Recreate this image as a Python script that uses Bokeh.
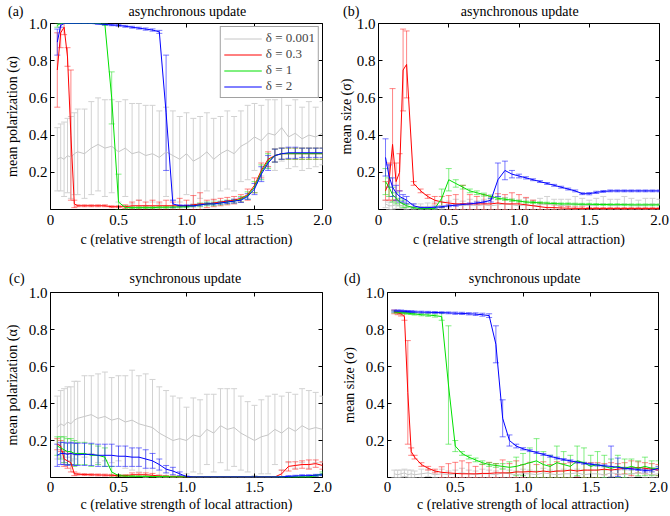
import numpy as np
from bokeh.plotting import figure
from bokeh.layouts import column, row
from bokeh.models import (ColumnDataSource, Whisker, TeeHead, Legend, LegendItem,
                          FixedTicker, CustomJSTickFormatter, LinearAxis, Range1d)
from bokeh.embed import file_html
from bokeh.resources import INLINE

FONT = "Liberation Serif"
NB = "\u00a0"

# ---------------- data ----------------
c_values = [0.05, 0.075, 0.1, 0.125, 0.15, 0.175, 0.2,
            0.25, 0.3, 0.35, 0.4, 0.45, 0.5, 0.55, 0.6, 0.65, 0.7, 0.75, 0.8, 0.85, 0.9, 0.95, 1.0,
            1.05, 1.1, 1.15, 1.2, 1.25, 1.3, 1.35, 1.4, 1.45, 1.5, 1.55, 1.6, 1.65, 1.7, 1.75, 1.8, 1.85, 1.9, 1.95, 2.0]
x_ticks = [0, 0.5, 1.0, 1.5, 2.0]
y_ticks = [0.2, 0.4, 0.6, 0.8, 1.0]
deltas = ["δ = 0.001", "δ = 0.3", "δ = 1", "δ = 2"]
panel_tags = ["(a)", "(b)", "(c)", "(d)"]
panel_titles = ["asynchronous update", "asynchronous update", "synchronous update", "synchronous update"]
y_labels = ["mean polarization (α)", "mean size (σ)", "mean polarization (α)", "mean size (σ)"]
x_label = "c (relative strength of local attraction)"

# (a) asynchronous, mean polarization
a_grey_m = [0.27, 0.28, 0.27, 0.29, 0.28, 0.30, 0.31,
            0.30, 0.33, 0.35, 0.33, 0.34, 0.31, 0.33, 0.30, 0.31, 0.29, 0.30, 0.28, 0.31, 0.29, 0.27, 0.30,
            0.26, 0.28, 0.31, 0.27, 0.30, 0.32, 0.30, 0.34, 0.36, 0.39, 0.37, 0.41, 0.40, 0.44, 0.39, 0.41, 0.38, 0.40, 0.39, 0.41]
a_grey_e = [0.17, 0.18, 0.20, 0.20, 0.22, 0.22, 0.23,
            0.24, 0.25, 0.25, 0.26, 0.25, 0.27, 0.26, 0.27, 0.26, 0.27, 0.26, 0.25, 0.24, 0.24, 0.23, 0.22,
            0.23, 0.22, 0.21, 0.22, 0.20, 0.21, 0.20, 0.19, 0.20, 0.18, 0.19, 0.18, 0.19, 0.18, 0.17, 0.18, 0.17, 0.18, 0.16, 0.17]
a_red_m = [0.75, 0.95, 0.98, 0.82, 0.40, 0.03, 0.02,
           0.02, 0.02, 0.02, 0.02, 0.015, 0.015, 0.015, 0.02, 0.02, 0.02, 0.02, 0.02, 0.02, 0.02, 0.02, 0.02,
           0.025, 0.03, 0.03, 0.035, 0.04, 0.045, 0.05, 0.06, 0.08, 0.13, 0.21, 0.27, 0.29, 0.30, 0.30, 0.30, 0.30, 0.30, 0.30, 0.30]
a_red_e = [0.20, 0.08, 0.04, 0.05, 0.35, 0.02, 0.005,
           0.005, 0.005, 0.005, 0.005, 0.005, 0.005, 0.01, 0.02, 0.03, 0.02, 0.03, 0.02, 0.03, 0.02, 0.04, 0.03,
           0.05, 0.06, 0.02, 0.02, 0.02, 0.02, 0.02, 0.02, 0.03, 0.04, 0.04, 0.04, 0.035, 0.03, 0.03, 0.03, 0.03, 0.03, 0.03, 0.03]
a_green_m = [0.99, 1.0, 1.0, 1.0, 1.0, 1.0, 1.0,
             1.0, 1.0, 1.0, 0.995, 0.60, 0.04, 0.01, 0.01, 0.01, 0.01, 0.01, 0.012, 0.012, 0.013, 0.014, 0.015,
             0.02, 0.025, 0.03, 0.03, 0.035, 0.04, 0.045, 0.055, 0.075, 0.12, 0.20, 0.26, 0.29, 0.30, 0.30, 0.30, 0.30, 0.30, 0.30, 0.30]
a_green_e = [0.01, 0.0, 0.0, 0.0, 0.0, 0.0, 0.0,
             0.0, 0.0, 0.0, 0.005, 0.14, 0.15, 0.01, 0.005, 0.005, 0.005, 0.005, 0.005, 0.005, 0.005, 0.005, 0.005,
             0.005, 0.01, 0.01, 0.01, 0.01, 0.01, 0.01, 0.015, 0.02, 0.03, 0.04, 0.04, 0.035, 0.03, 0.03, 0.03, 0.03, 0.03, 0.03, 0.03]
a_blue_m = [0.90, 0.99, 1.0, 1.0, 1.0, 1.0, 1.0,
            1.0, 1.0, 0.998, 0.995, 0.992, 0.99, 0.985, 0.98, 0.975, 0.97, 0.965, 0.955, 0.52, 0.03, 0.02, 0.02,
            0.02, 0.025, 0.03, 0.03, 0.035, 0.04, 0.045, 0.05, 0.07, 0.11, 0.19, 0.25, 0.29, 0.30, 0.305, 0.305, 0.305, 0.305, 0.305, 0.305]
a_blue_e = [0.07, 0.01, 0.0, 0.0, 0.0, 0.0, 0.0,
            0.0, 0.0, 0.002, 0.003, 0.004, 0.005, 0.005, 0.005, 0.005, 0.006, 0.006, 0.008, 0.31, 0.02, 0.005, 0.005,
            0.005, 0.005, 0.005, 0.005, 0.006, 0.008, 0.01, 0.012, 0.015, 0.03, 0.04, 0.04, 0.035, 0.03, 0.03, 0.03, 0.025, 0.025, 0.025, 0.025]

# (b) asynchronous, mean size
b_grey_m = [0.03, 0.02, 0.02, 0.025, 0.02, 0.02, 0.015,
            0.015, 0.015, 0.015, 0.02, 0.02, 0.02, 0.025, 0.02, 0.025, 0.02, 0.025, 0.02, 0.025, 0.03, 0.025, 0.02,
            0.025, 0.02, 0.025, 0.03, 0.025, 0.02, 0.025, 0.03, 0.025, 0.02, 0.025, 0.03, 0.025, 0.02, 0.03, 0.025, 0.02, 0.025, 0.03, 0.025]
b_grey_e = [0.02, 0.02, 0.02, 0.02, 0.015, 0.015, 0.015,
            0.015, 0.015, 0.02, 0.02, 0.02, 0.025, 0.03, 0.025, 0.03, 0.025, 0.03, 0.035, 0.03, 0.035, 0.03, 0.03,
            0.035, 0.03, 0.035, 0.04, 0.03, 0.035, 0.03, 0.04, 0.035, 0.03, 0.035, 0.04, 0.03, 0.035, 0.04, 0.035, 0.03, 0.035, 0.03, 0.03]
b_red_m = [0.10, 0.15, 0.35, 0.15, 0.20, 0.75, 0.78,
           0.14, 0.10, 0.07, 0.05, 0.04, 0.035, 0.03, 0.03, 0.03, 0.03, 0.03, 0.03, 0.035, 0.03, 0.03, 0.03,
           0.025, 0.02, 0.015, 0.01, 0.01, 0.008, 0.007, 0.006, 0.006, 0.005, 0.005, 0.005, 0.005, 0.005, 0.005, 0.005, 0.005, 0.005, 0.005, 0.005]
b_red_e = [0.05, 0.10, 0.30, 0.10, 0.10, 0.22, 0.18,
           0.01, 0.01, 0.01, 0.02, 0.03, 0.04, 0.05, 0.10, 0.05, 0.04, 0.05, 0.04, 0.05, 0.05, 0.06, 0.05,
           0.04, 0.03, 0.02, 0.02, 0.015, 0.01, 0.01, 0.008, 0.008, 0.006, 0.006, 0.005, 0.005, 0.005, 0.005, 0.005, 0.005, 0.005, 0.005, 0.005]
b_green_m = [0.15, 0.12, 0.08, 0.06, 0.04, 0.03, 0.02,
             0.01, 0.005, 0.005, 0.005, 0.06, 0.16, 0.14, 0.12, 0.10, 0.09, 0.08, 0.07, 0.06, 0.055, 0.05, 0.045,
             0.04, 0.038, 0.036, 0.034, 0.032, 0.03, 0.03, 0.029, 0.028, 0.028, 0.027, 0.027, 0.026, 0.026, 0.026, 0.025, 0.025, 0.025, 0.025, 0.025]
b_green_e = [0.07, 0.05, 0.04, 0.03, 0.02, 0.02, 0.01,
             0.005, 0.003, 0.003, 0.003, 0.05, 0.06, 0.02, 0.01, 0.01, 0.01, 0.008, 0.008, 0.007, 0.006, 0.006, 0.005,
             0.005, 0.005, 0.005, 0.005, 0.005, 0.005, 0.005, 0.005, 0.005, 0.005, 0.005, 0.005, 0.005, 0.005, 0.005, 0.005, 0.005, 0.005, 0.005, 0.005]
b_blue_m = [0.28, 0.18, 0.12, 0.09, 0.07, 0.06, 0.05,
            0.02, 0.01, 0.01, 0.012, 0.015, 0.02, 0.023, 0.027, 0.03, 0.035, 0.04, 0.05, 0.16, 0.21, 0.19, 0.18,
            0.17, 0.16, 0.15, 0.14, 0.13, 0.12, 0.11, 0.10, 0.085, 0.085, 0.092, 0.097, 0.10, 0.10, 0.10, 0.10, 0.10, 0.10, 0.10, 0.10]
b_blue_e = [0.10, 0.06, 0.05, 0.04, 0.03, 0.02, 0.02,
            0.01, 0.005, 0.005, 0.005, 0.005, 0.005, 0.005, 0.005, 0.005, 0.005, 0.005, 0.01, 0.09, 0.05, 0.02, 0.01,
            0.006, 0.005, 0.005, 0.005, 0.005, 0.005, 0.005, 0.005, 0.005, 0.006, 0.006, 0.005, 0.005, 0.005, 0.005, 0.005, 0.005, 0.005, 0.005, 0.005]

# (c) synchronous, mean polarization
c_grey_m = [0.27, 0.29, 0.28, 0.30, 0.29, 0.31, 0.32,
            0.33, 0.34, 0.32, 0.33, 0.31, 0.32, 0.30, 0.31, 0.29, 0.28, 0.27, 0.24, 0.22, 0.20, 0.21, 0.20,
            0.23, 0.22, 0.26, 0.24, 0.28, 0.26, 0.27, 0.24, 0.22, 0.20, 0.22, 0.23, 0.26, 0.24, 0.27, 0.25, 0.28, 0.26, 0.27, 0.26]
c_grey_e = [0.17, 0.18, 0.20, 0.19, 0.20, 0.21, 0.20,
            0.22, 0.21, 0.24, 0.24, 0.23, 0.23, 0.25, 0.27, 0.26, 0.28, 0.26, 0.25, 0.25, 0.24, 0.22, 0.18,
            0.20, 0.20, 0.19, 0.21, 0.20, 0.22, 0.21, 0.20, 0.19, 0.19, 0.20, 0.21, 0.19, 0.20, 0.19, 0.20, 0.20, 0.21, 0.19, 0.18]
c_red_m = [0.18, 0.17, 0.10, 0.09, 0.08, 0.02, 0.018,
           0.016, 0.015, 0.014, 0.013, 0.012, 0.01, 0.01, 0.015, 0.015, 0.015, 0.012, 0.008, 0.006, 0.005, 0.004, 0.003,
           0.003, 0.003, 0.003, 0.003, 0.003, 0.003, 0.003, 0.003, 0.003, 0.003, 0.003, 0.003, 0.003, 0.02, 0.06, 0.065, 0.07, 0.07, 0.075, 0.065]
c_red_e = [0.03, 0.03, 0.04, 0.04, 0.05, 0.01, 0.005,
           0.005, 0.005, 0.005, 0.005, 0.005, 0.005, 0.005, 0.01, 0.01, 0.01, 0.01, 0.005, 0.004, 0.003, 0.003, 0.002,
           0.002, 0.002, 0.002, 0.002, 0.002, 0.002, 0.002, 0.002, 0.002, 0.002, 0.002, 0.002, 0.002, 0.02, 0.025, 0.02, 0.02, 0.025, 0.02, 0.02]
c_green_m = [0.17, 0.16, 0.15, 0.14, 0.14, 0.13, 0.13,
             0.13, 0.12, 0.12, 0.11, 0.03, 0.01, 0.008, 0.007, 0.006, 0.006, 0.005, 0.005, 0.005, 0.004, 0.004, 0.003,
             0.003, 0.003, 0.003, 0.003, 0.003, 0.003, 0.003, 0.003, 0.003, 0.003, 0.003, 0.003, 0.003, 0.003, 0.003, 0.003, 0.003, 0.003, 0.01, 0.02]
c_green_e = [0.05, 0.06, 0.07, 0.07, 0.07, 0.07, 0.06,
             0.06, 0.06, 0.05, 0.05, 0.03, 0.005, 0.004, 0.004, 0.003, 0.003, 0.003, 0.003, 0.003, 0.002, 0.002, 0.002,
             0.002, 0.002, 0.002, 0.002, 0.002, 0.002, 0.002, 0.002, 0.002, 0.002, 0.002, 0.002, 0.002, 0.002, 0.002, 0.002, 0.002, 0.002, 0.005, 0.01]
c_blue_m = [0.12, 0.13, 0.13, 0.125, 0.13, 0.125, 0.125,
            0.125, 0.125, 0.12, 0.12, 0.12, 0.115, 0.115, 0.11, 0.11, 0.10, 0.09, 0.07, 0.045, 0.035, 0.02, 0.005,
            0.003, 0.003, 0.003, 0.003, 0.003, 0.003, 0.003, 0.003, 0.003, 0.003, 0.003, 0.003, 0.003, 0.003, 0.006, 0.008, 0.01, 0.01, 0.012, 0.015]
c_blue_e = [0.06, 0.06, 0.06, 0.06, 0.06, 0.06, 0.06,
            0.06, 0.06, 0.06, 0.06, 0.06, 0.055, 0.055, 0.05, 0.05, 0.05, 0.04, 0.03, 0.02, 0.02, 0.01, 0.003,
            0.002, 0.002, 0.002, 0.002, 0.002, 0.002, 0.002, 0.002, 0.002, 0.002, 0.002, 0.002, 0.002, 0.002, 0.004, 0.004, 0.005, 0.005, 0.005, 0.005]

# (d) synchronous, mean size
d_grey_m = [0.02, 0.015, 0.02, 0.025, 0.015, 0.02, 0.015,
            0.02, 0.025, 0.015, 0.02, 0.015, 0.02, 0.025, 0.02, 0.015, 0.02, 0.02, 0.015, 0.025, 0.02, 0.015, 0.02,
            0.02, 0.015, 0.025, 0.02, 0.015, 0.02, 0.02, 0.025, 0.015, 0.02, 0.02, 0.015, 0.025, 0.02, 0.015, 0.02, 0.025, 0.02, 0.015, 0.02]
d_grey_e = [0.02, 0.025, 0.02, 0.02, 0.025, 0.02, 0.02,
            0.025, 0.02, 0.02, 0.025, 0.02, 0.02, 0.025, 0.02, 0.02, 0.025, 0.02, 0.02, 0.025, 0.02, 0.02, 0.025,
            0.02, 0.02, 0.025, 0.02, 0.02, 0.025, 0.02, 0.02, 0.025, 0.02, 0.02, 0.025, 0.02, 0.02, 0.025, 0.02, 0.02, 0.025, 0.02, 0.02]
d_red_m = [0.895, 0.89, 0.885, 0.87, 0.46, 0.14, 0.11,
           0.07, 0.05, 0.035, 0.028, 0.025, 0.022, 0.02, 0.02, 0.02, 0.022, 0.022, 0.025, 0.025, 0.025, 0.03, 0.03,
           0.032, 0.03, 0.035, 0.03, 0.035, 0.035, 0.04, 0.035, 0.04, 0.04, 0.04, 0.045, 0.04, 0.045, 0.05, 0.05, 0.055, 0.05, 0.045, 0.04]
d_red_e = [0.01, 0.01, 0.012, 0.02, 0.28, 0.02, 0.01,
           0.01, 0.01, 0.01, 0.03, 0.05, 0.06, 0.07, 0.06, 0.04, 0.05, 0.06, 0.05, 0.07, 0.05, 0.06, 0.04,
           0.05, 0.04, 0.05, 0.04, 0.05, 0.04, 0.04, 0.05, 0.04, 0.04, 0.04, 0.03, 0.04, 0.03, 0.03, 0.04, 0.03, 0.03, 0.03, 0.03]
d_green_m = [0.895, 0.893, 0.89, 0.89, 0.888, 0.886, 0.884,
             0.88, 0.878, 0.875, 0.87, 0.50, 0.17, 0.13, 0.11, 0.095, 0.08, 0.07, 0.065, 0.06, 0.055, 0.06, 0.07,
             0.08, 0.09, 0.07, 0.06, 0.08, 0.07, 0.06, 0.09, 0.08, 0.06, 0.07, 0.06, 0.05, 0.06, 0.05, 0.06, 0.05, 0.06, 0.05, 0.05]
d_green_e = [0.005, 0.005, 0.005, 0.005, 0.005, 0.005, 0.006,
             0.006, 0.007, 0.008, 0.02, 0.32, 0.03, 0.01, 0.01, 0.01, 0.01, 0.01, 0.01, 0.015, 0.03, 0.05, 0.06,
             0.08, 0.12, 0.07, 0.06, 0.09, 0.07, 0.06, 0.08, 0.08, 0.06, 0.07, 0.06, 0.05, 0.06, 0.05, 0.04, 0.04, 0.05, 0.04, 0.04]
d_blue_m = [0.90, 0.90, 0.90, 0.898, 0.897, 0.896, 0.895,
            0.894, 0.893, 0.892, 0.891, 0.89, 0.888, 0.887, 0.885, 0.883, 0.88, 0.875, 0.72, 0.32, 0.20, 0.17, 0.155,
            0.145, 0.135, 0.125, 0.115, 0.105, 0.097, 0.09, 0.083, 0.077, 0.072, 0.067, 0.063, 0.06, 0.055, 0.05, 0.047, 0.043, 0.038, 0.04, 0.05]
d_blue_e = [0.005, 0.005, 0.005, 0.005, 0.005, 0.005, 0.005,
            0.005, 0.005, 0.005, 0.005, 0.005, 0.006, 0.006, 0.006, 0.007, 0.008, 0.01, 0.10, 0.10, 0.03, 0.01, 0.006,
            0.005, 0.005, 0.005, 0.005, 0.005, 0.005, 0.005, 0.005, 0.005, 0.005, 0.005, 0.005, 0.11, 0.05, 0.005, 0.005, 0.005, 0.008, 0.01, 0.01]

# ---------------- style ----------------
line_colors = ["#c6c6c6", "#ff0000", "#00e000", "#0000ff"]
bar_colors = ["#d2d2d2", "#ff2020", "#20e020", "#2020ff"]
bar_alphas = [1.0, 0.55, 0.55, 0.6]


def make_panel(idx, series, left, fw, right, top, fh, bottom,
               head_standoff, head_pos, head_gap, ylab_standoff, xtick_standoff, xlab_standoff, legend=False):
    p = figure(frame_width=fw, frame_height=fh, min_border_left=left, min_border_right=right,
               min_border_top=top, min_border_bottom=bottom,
               x_range=Range1d(0, 2), y_range=Range1d(0, 1),
               output_backend="svg", toolbar_location=None, tools="",
               background_fill_color="white", border_fill_color="white")
    p.xgrid.visible = False
    p.ygrid.visible = False
    p.outline_line_color = "black"
    p.outline_line_width = 1

    p.xaxis.ticker = FixedTicker(ticks=x_ticks)
    p.xaxis.formatter = CustomJSTickFormatter(code="return tick == 0 ? '0' : tick.toFixed(1);")
    p.yaxis.ticker = FixedTicker(ticks=y_ticks)
    p.yaxis.formatter = CustomJSTickFormatter(code="return tick.toFixed(1);")
    for ax in (p.xaxis, p.yaxis):
        ax.major_tick_in = 4
        ax.major_tick_out = 0
        ax.minor_tick_line_color = None
        ax.axis_line_color = None
        ax.major_tick_line_color = "black"
        ax.major_label_text_font = FONT
        ax.major_label_text_font_size = "15px"
        ax.major_label_text_color = "black"
        ax.axis_label_text_font = FONT
        ax.axis_label_text_font_size = "14px"
        ax.axis_label_text_font_style = "normal"
        ax.axis_label_text_color = "black"
    p.xaxis.major_label_standoff = xtick_standoff
    p.xaxis.axis_label = x_label
    p.xaxis.axis_label_standoff = xlab_standoff
    p.yaxis.major_label_standoff = 3
    p.yaxis.axis_label = y_labels[idx]
    p.yaxis.axis_label_standoff = ylab_standoff

    # mirrored tick marks on the right and top edges
    for place, tk in (("right", y_ticks), ("above", x_ticks)):
        mirror = LinearAxis(ticker=FixedTicker(ticks=tk),
                            formatter=CustomJSTickFormatter(code="return '';"),
                            major_label_text_font_size="0px", major_label_standoff=0,
                            major_tick_in=4, major_tick_out=0, minor_tick_line_color=None,
                            axis_line_color=None, major_tick_line_color="black")
        p.add_layout(mirror, place)

    # panel tag and heading on one line above the frame
    heading = panel_tags[idx] + NB * head_gap + panel_titles[idx]
    head = LinearAxis(ticker=FixedTicker(ticks=[head_pos]),
                      formatter=CustomJSTickFormatter(args=dict(txt=heading), code="return txt;"),
                      major_label_text_font=FONT, major_label_text_font_size="14px",
                      major_label_text_color="black", major_label_standoff=head_standoff,
                      major_tick_in=0, major_tick_out=0, major_tick_line_color=None,
                      minor_tick_line_color=None, axis_line_color=None)
    p.add_layout(head, "above")

    items = []
    for (m, e), lab, col, bcol, ba in zip(series, deltas, line_colors, bar_colors, bar_alphas):
        mean = np.array(m, dtype=float)
        err = np.array(e, dtype=float)
        src = ColumnDataSource(dict(x=c_values, y=mean,
                                    upper=np.clip(mean + err, 0, 1),
                                    lower=np.clip(mean - err, 0, 1)))
        w = Whisker(source=src, base="x", upper="upper", lower="lower",
                    line_color=bcol, line_alpha=ba, line_width=1,
                    upper_head=TeeHead(size=6, line_color=bcol, line_alpha=ba, line_width=1),
                    lower_head=TeeHead(size=6, line_color=bcol, line_alpha=ba, line_width=1))
        p.add_layout(w)
        r = p.line("x", "y", source=src, line_color=col, line_width=1)
        if legend:
            mk = p.scatter(x=[], y=[], marker="dash", angle=np.pi / 2, size=11,
                           line_color=bcol, line_alpha=ba)
            items.append(LegendItem(label=lab, renderers=[r, mk]))

    if legend:
        leg = Legend(items=items, location="top_right", margin=3, padding=3, spacing=0,
                     glyph_width=38, glyph_height=13, label_standoff=4, label_height=13,
                     label_text_font=FONT, label_text_font_size="13px",
                     border_line_color="#444444", border_line_width=1.5,
                     background_fill_color="white", background_fill_alpha=1.0)
        p.add_layout(leg)
    return p


# idx, series, left, fw, right, top, fh, bottom, head_standoff, head_pos, head_gap,
# ylab_standoff, xtick_standoff, xlab_standoff
pa = make_panel(0, [(a_grey_m, a_grey_e), (a_red_m, a_red_e), (a_green_m, a_green_e), (a_blue_m, a_blue_e)],
                50, 272, 13, 22, 186, 50, 5, 0.5637, 30, 6, 5, 4, legend=True)
pb = make_panel(1, [(b_grey_m, b_grey_e), (b_red_m, b_red_e), (b_green_m, b_green_e), (b_blue_m, b_blue_e)],
                42, 281, 11, 22, 186, 50, 5, 0.5858, 29, 0, 5, 4)
pc = make_panel(2, [(c_grey_m, c_grey_e), (c_red_m, c_red_e), (c_green_m, c_green_e), (c_blue_m, c_blue_e)],
                50, 272, 13, 33, 185, 38, 7, 0.5483, 30, 6, 4, 2)
pd = make_panel(3, [(d_grey_m, d_grey_e), (d_red_m, d_red_e), (d_green_m, d_green_e), (d_blue_m, d_blue_e)],
                52, 271, 11, 33, 185, 38, 7, 0.5514, 31, 6, 4, 2)

layout = column(row(pa, pb), row(pc, pd))
open("out.html", "w").write(file_html(layout, INLINE))
